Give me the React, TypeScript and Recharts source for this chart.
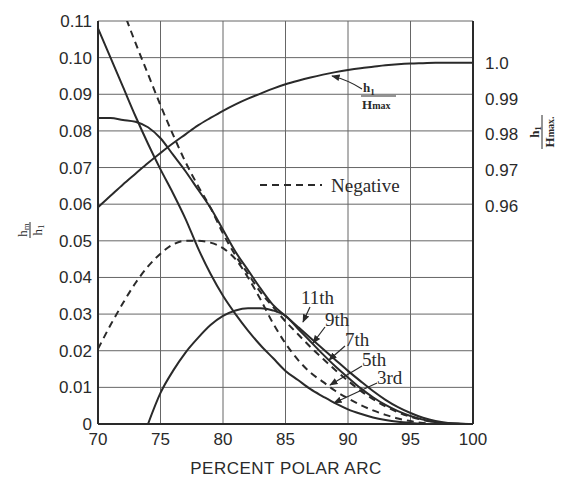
import { LineChart, Line, XAxis, YAxis, CartesianGrid } from 'recharts';

// percent polar arc
const arc = [70, 71, 72, 73, 74, 75, 76, 77, 78, 79, 80, 81, 82, 83, 84, 85, 86, 87, 88, 89, 90, 91, 92, 93, 94, 95, 96, 97, 98, 99, 100];

// hm / h1 (left axis)
const third = [0.108, 0.1, 0.092, 0.084, 0.0765, 0.0695, 0.063, 0.056, 0.048, 0.041, 0.035, 0.03, 0.0255, 0.0215, 0.018, 0.0145, 0.012, 0.0095, 0.0075, 0.0056, 0.004, 0.0028, 0.0018, 0.0011, 0.0006, 0.0003, 0.0001, 0, 0, 0, 0];
const fifth = [0.0205, 0.027, 0.033, 0.0385, 0.043, 0.0465, 0.049, 0.05, 0.05, 0.0495, 0.048, 0.045, 0.04, 0.034, 0.0275, 0.022, 0.0175, 0.014, 0.0115, 0.009, 0.007, 0.0052, 0.0037, 0.0025, 0.0015, 0.0008, 0.0003, 0.0001, 0, 0, 0];
const seventh = [null, null, null, null, 0, 0.0085, 0.0145, 0.0195, 0.0235, 0.027, 0.0295, 0.031, 0.0316, 0.0316, 0.031, 0.0295, 0.026, 0.0225, 0.019, 0.0157, 0.0127, 0.0098, 0.0073, 0.0052, 0.0035, 0.0022, 0.0012, 0.0005, 0.0002, 0.00005, 0];
const ninth = [0.132, 0.122, 0.113, 0.104, 0.0955, 0.087, 0.079, 0.0715, 0.065, 0.059, 0.052, 0.046, 0.041, 0.036, 0.032, 0.028, 0.0245, 0.021, 0.0178, 0.0147, 0.0118, 0.0091, 0.0068, 0.0048, 0.0032, 0.002, 0.0011, 0.0005, 0.0001, 0, 0];
const eleventh = [0.0835, 0.0835, 0.083, 0.0825, 0.081, 0.078, 0.0735, 0.069, 0.064, 0.059, 0.053, 0.047, 0.042, 0.037, 0.0325, 0.0295, 0.0265, 0.0235, 0.0205, 0.0175, 0.0145, 0.0117, 0.009, 0.0066, 0.0046, 0.003, 0.0017, 0.0008, 0.0003, 0.0001, 0];

// h1 / Hmax (right axis)
const h1Hmax = [0.9596, 0.9628, 0.966, 0.969, 0.972, 0.9748, 0.9775, 0.98, 0.9825, 0.9846, 0.9866, 0.9884, 0.99, 0.9914, 0.9928, 0.994, 0.995, 0.9959, 0.9967, 0.9974, 0.998, 0.9985, 0.9989, 0.9993, 0.9996, 0.9998, 0.9999, 1.0, 1.0, 1.0, 1.0];

const xTicks = [70, 75, 80, 85, 90, 95, 100];
const leftTicks = [0, 0.01, 0.02, 0.03, 0.04, 0.05, 0.06, 0.07, 0.08, 0.09, 0.1, 0.11];
const rightTicks = [0.96, 0.97, 0.98, 0.99, 1.0];

const data = arc.map((x, i) => ({
  x,
  third: third[i],
  fifth: fifth[i],
  seventh: seventh[i],
  ninth: ninth[i],
  eleventh: eleventh[i],
  h1Hmax: h1Hmax[i],
}));

const ink = '#2a2a2a';
const sans = '"Liberation Sans", Arial, sans-serif';
const serif = '"Liberation Serif", "Times New Roman", serif';

const leftFmt = (v: number) => (v === 0 ? '0' : v.toFixed(2));
const rightFmt = (v: number) => (v === 1 ? '1.0' : v.toFixed(2));

const Annotations = () => (
  <svg width={569} height={478} style={{ position: 'absolute', left: 0, top: 0, pointerEvents: 'none' }}>
    <defs>
      <marker id="ah" viewBox="0 0 10 10" refX="9" refY="5" markerWidth="7" markerHeight="7" orient="auto">
        <path d="M0,1 L10,5 L0,9 z" fill={ink} />
      </marker>
    </defs>
    {/* legend */}
    <line x1={260} y1={185} x2={322} y2={185} stroke={ink} strokeWidth={2} strokeDasharray="7 5" />
    <text x={331} y={192} fontFamily={serif} fontSize={19} fill={ink}>Negative</text>

    {/* h1/Hmax curve label */}
    <text x={363} y={92} fontFamily={serif} fontSize={13} fontWeight="bold" fill={ink}>h<tspan fontSize={9} dy={3}>1</tspan></text>
    <line x1={361} y1={96} x2={396} y2={96} stroke={ink} strokeWidth={1} />
    <text x={362} y={109} fontFamily={serif} fontSize={13} fontWeight="bold" fill={ink}>H<tspan fontSize={10}>max</tspan></text>
    <path d="M362,89 Q348,80 332,76" fill="none" stroke={ink} strokeWidth={1.2} markerEnd="url(#ah)" />

    {/* harmonic labels */}
    <g fontFamily={serif} fontSize={19} fill={ink}>
      <text x={301} y={304}>11th</text>
      <text x={325} y={326}>9th</text>
      <text x={345} y={346}>7th</text>
      <text x={362} y={366}>5th</text>
      <text x={377} y={384}>3rd</text>
    </g>
    <g stroke={ink} strokeWidth={1.2} fill="none">
      <line x1={310} y1={307} x2={303} y2={322} markerEnd="url(#ah)" />
      <line x1={325} y1={327} x2={313} y2={343} markerEnd="url(#ah)" />
      <line x1={345} y1={346} x2={329} y2={360} markerEnd="url(#ah)" />
      <line x1={362} y1={366} x2={330} y2={385} markerEnd="url(#ah)" />
      <line x1={377} y1={383} x2={334} y2={403} markerEnd="url(#ah)" />
    </g>

    {/* left axis title hm/h1 */}
    <g transform="translate(30,230) rotate(-90)" fontFamily={serif} fontSize={13} fill={ink}>
      <text x={0} y={-3} textAnchor="middle">h<tspan fontSize={9} dy={2}>m</tspan></text>
      <line x1={-8} y1={0} x2={8} y2={0} stroke={ink} strokeWidth={1} />
      <text x={0} y={12} textAnchor="middle">h<tspan fontSize={9} dy={2}>1</tspan></text>
    </g>

    {/* right axis title h1/Hmax */}
    <g transform="translate(542,132) rotate(-90)" fontFamily={serif} fontSize={13} fontWeight="bold" fill={ink}>
      <text x={0} y={-3} textAnchor="middle">h<tspan fontSize={9} dy={2}>1</tspan></text>
      <line x1={-17} y1={0} x2={17} y2={0} stroke={ink} strokeWidth={1} />
      <text x={0} y={12} textAnchor="middle">H<tspan fontSize={10}>max.</tspan></text>
    </g>

    {/* x axis title */}
    <text x={286} y={474} textAnchor="middle" fontFamily={sans} fontSize={17} letterSpacing={0.5} fill={ink}>PERCENT POLAR ARC</text>
  </svg>
);

export default function App() {
  return (
    <div style={{ position: 'absolute', left: 0, top: 0, width: 569, height: 478, background: '#fff' }}>
      <LineChart width={569} height={478} data={data} margin={{ top: 21, right: 36, bottom: 24, left: 38 }}>
        <CartesianGrid yAxisId="left" stroke="#666" strokeWidth={1} />
        <XAxis
          dataKey="x"
          type="number"
          domain={[70, 100]}
          ticks={xTicks}
          height={30}
          tickLine={false}
          tickSize={6}
          tickMargin={3}
          axisLine={{ stroke: ink, strokeWidth: 2 }}
          tick={{ fill: ink, fontSize: 17, fontFamily: sans }}
        />
        <YAxis
          yAxisId="left"
          type="number"
          domain={[0, 0.11]}
          ticks={leftTicks}
          allowDataOverflow
          width={60}
          tickLine={false}
          tickSize={4}
          tickMargin={2}
          tickFormatter={leftFmt}
          axisLine={{ stroke: ink, strokeWidth: 2 }}
          tick={{ fill: ink, fontSize: 17, fontFamily: sans }}
        />
        <YAxis
          yAxisId="right"
          orientation="right"
          type="number"
          domain={[0.899, 1.0117]}
          ticks={rightTicks}
          allowDataOverflow
          width={60}
          tickLine={false}
          tickSize={4}
          tickMargin={8}
          tickFormatter={rightFmt}
          axisLine={{ stroke: ink, strokeWidth: 2 }}
          tick={{ fill: ink, fontSize: 17, fontFamily: sans }}
        />
        <Line yAxisId="right" dataKey="h1Hmax" type="monotone" stroke={ink} strokeWidth={2} dot={false} isAnimationActive={false} />
        <Line yAxisId="left" dataKey="third" type="monotone" stroke={ink} strokeWidth={2} dot={false} isAnimationActive={false} />
        <Line yAxisId="left" dataKey="fifth" type="monotone" stroke={ink} strokeWidth={2} strokeDasharray="7 5" dot={false} isAnimationActive={false} />
        <Line yAxisId="left" dataKey="seventh" type="monotone" stroke={ink} strokeWidth={2} dot={false} isAnimationActive={false} />
        <Line yAxisId="left" dataKey="ninth" type="monotone" stroke={ink} strokeWidth={2} strokeDasharray="7 5" dot={false} isAnimationActive={false} />
        <Line yAxisId="left" dataKey="eleventh" type="monotone" stroke={ink} strokeWidth={2} dot={false} isAnimationActive={false} />
      </LineChart>
      <Annotations />
    </div>
  );
}
